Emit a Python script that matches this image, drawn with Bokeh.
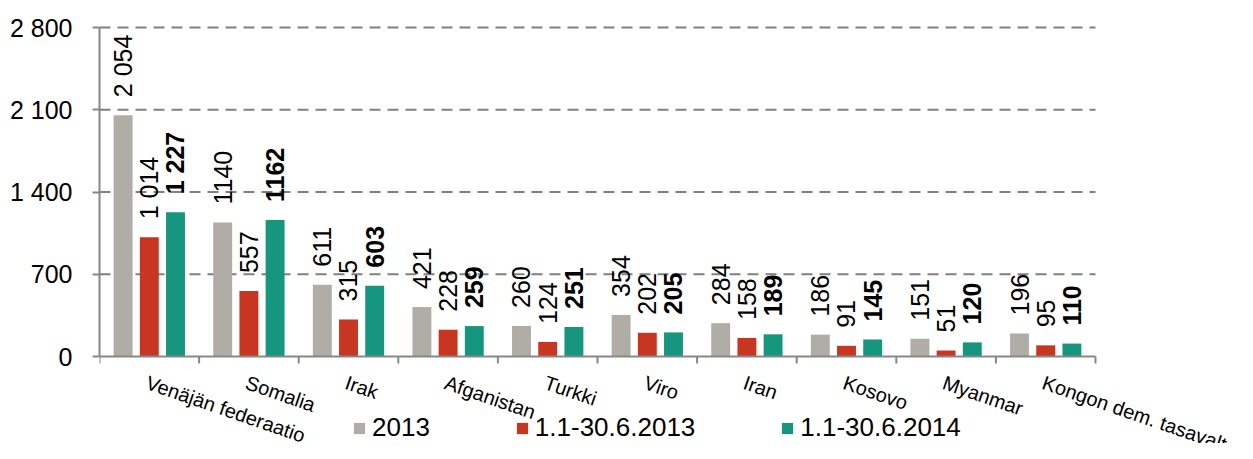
import math
from bokeh.plotting import figure
from bokeh.models import ColumnDataSource, LabelSet, FixedTicker, Legend, LegendItem
from bokeh.core.properties import value
from bokeh.embed import file_html
from bokeh.resources import INLINE

categories = ["Venäjän federaatio", "Somalia", "Irak", "Afganistan", "Turkki",
              "Viro", "Iran", "Kosovo", "Myanmar", "Kongon dem. tasavalta"]
series_names = ["2013", "1.1-30.6.2013", "1.1-30.6.2014"]
v_2013 = [2054, 1140, 611, 421, 260, 354, 284, 186, 151, 196]
v_h1_2013 = [1014, 557, 315, 228, 124, 202, 158, 91, 51, 95]
v_h1_2014 = [1227, 1162, 603, 259, 251, 205, 189, 145, 120, 110]
lbl_2013 = ["2 054", "1140", "611", "421", "260", "354", "284", "186", "151", "196"]
lbl_h1_2013 = ["1 014", "557", "315", "228", "124", "202", "158", "91", "51", "95"]
lbl_h1_2014 = ["1 227", "1162", "603", "259", "251", "205", "189", "145", "120", "110"]
y_ticks = [0, 700, 1400, 2100, 2800]
y_tick_labels = ["0", "700", "1 400", "2 100", "2 800"]

colors = ["#B0ADA6", "#C83521", "#16967E"]
offsets = [-0.263, 0.0, 0.263]
FONT = "Liberation Sans"

W, H = 1237, 443
LEFT_PX, RIGHT_PX = 99, 1095        # pixel columns of the category span
TOP_PX, ZERO_PX = 27, 356           # pixel rows of 2800 and 0
FRAME_TOP = 20
UPP = (y_ticks[-1] - y_ticks[0]) / (ZERO_PX - TOP_PX)   # data units per pixel
y_end = y_ticks[-1] + (TOP_PX - FRAME_TOP) * UPP
y_start = -(H - ZERO_PX) * UPP
n = len(categories)
x_end = n * (W - LEFT_PX) / (RIGHT_PX - LEFT_PX)

p = figure(width=W, height=H, output_backend="svg", toolbar_location=None,
           x_range=(0, x_end), y_range=(y_start, y_end),
           x_axis_location=None,
           min_border_left=LEFT_PX, min_border_right=0, min_border_top=FRAME_TOP,
           min_border_bottom=0)
p.outline_line_color = None
p.background_fill_color = "white"
p.xgrid.grid_line_color = None
p.ygrid.grid_line_color = None

axis_col = "#878787"

# dashed horizontal gridlines over the category span
gy = y_ticks[1:]
p.segment(x0=[0] * len(gy), y0=gy, x1=[n] * len(gy), y1=gy,
          line_color="#808080", line_width=2, line_dash="11 7")

centers = [i + 0.5 for i in range(n)]
legend_items = []
for k, (vals, lbls) in enumerate([(v_2013, lbl_2013), (v_h1_2013, lbl_h1_2013), (v_h1_2014, lbl_h1_2014)]):
    src = ColumnDataSource(dict(x=[c + offsets[k] for c in centers], top=vals, text=lbls))
    r = p.vbar(x="x", top="top", width=0.19, bottom=0, source=src,
               fill_color=colors[k], line_color=None)
    legend_items.append(LegendItem(label=series_names[k], renderers=[r]))
    ls = LabelSet(x="x", y="top", text="text", source=src, angle=math.pi / 2,
                  y_offset=18, text_align="left", text_baseline="middle",
                  text_font=value(FONT), text_font_size=value("25px"), text_color="black",
                  text_font_style=value("bold" if k == 2 else "normal"))
    p.add_layout(ls)

# x axis baseline and category boundary ticks
p.segment(x0=[0], y0=[0], x1=[n], y1=[0], line_color=axis_col, line_width=2)
bounds_x = list(range(n + 1))
p.segment(x0=bounds_x, y0=[0] * len(bounds_x), x1=bounds_x, y1=[-7 * UPP] * len(bounds_x),
          line_color=axis_col, line_width=2)

# category labels
cat_src = ColumnDataSource(dict(x=centers, y=[0] * n, text=categories))
p.add_layout(LabelSet(x="x", y="y", text="text", source=cat_src, angle=math.radians(-19),
                      x_offset=1, y_offset=-15, text_align="left", text_baseline="top",
                      text_font=value(FONT), text_font_size=value("20px"), text_color="black"))

# y axis
p.yaxis.bounds = (y_ticks[0], y_ticks[-1])
p.yaxis.ticker = FixedTicker(ticks=y_ticks)
p.yaxis.major_label_overrides = {t: l for t, l in zip(y_ticks, y_tick_labels)}
p.yaxis.major_label_text_font = FONT
p.yaxis.major_label_text_font_size = "25px"
p.yaxis.major_label_text_color = "black"
p.yaxis.major_label_standoff = 20
p.yaxis.axis_line_color = axis_col
p.yaxis.axis_line_width = 2
p.yaxis.major_tick_line_color = axis_col
p.yaxis.major_tick_line_width = 2
p.yaxis.major_tick_out = 7
p.yaxis.major_tick_in = 0
p.yaxis.minor_tick_line_color = None

legend = Legend(items=legend_items, orientation="horizontal", location=(253, 0),
                glyph_width=14, glyph_height=14, label_standoff=6, spacing=85,
                padding=0, margin=0, border_line_color=None, background_fill_alpha=0,
                label_text_font=FONT, label_text_font_size="26px", label_text_color="black",
                label_height=20)
p.add_layout(legend)

open("out.html", "w").write(file_html(p, INLINE))
